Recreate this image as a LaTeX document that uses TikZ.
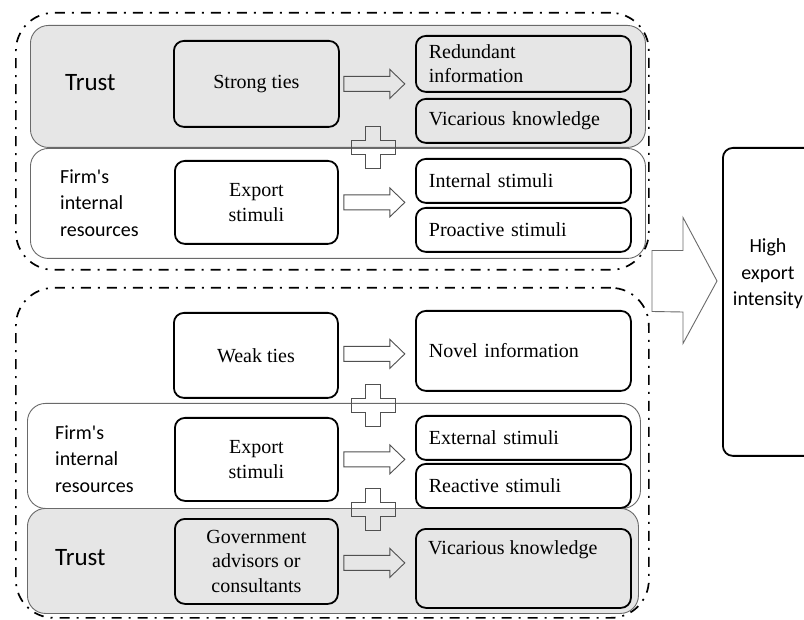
\documentclass[tikz,border=0pt]{standalone}
\usepackage{fontspec}
\setmainfont{Liberation Serif}
\newfontfamily\calfont{Carlito}
\usetikzlibrary{calc}
\definecolor{panelgray}{HTML}{E6E6E6}
\definecolor{edgegray}{HTML}{6A6A6A}
\definecolor{arrowgray}{HTML}{505050}
\newcommand\serifsz{\fontsize{20}{24.5}\selectfont}
\newcommand\sanssz{\calfont\fontsize{20}{26.5}\selectfont}
\newcommand\trustsz{\calfont\fontsize{25}{30}\selectfont}
\tikzset{
  groupbox/.style={draw=black, line width=1.7pt, dash pattern=on 10pt off 7pt on 2pt off 7pt, rounded corners=38pt, anchor=north west, inner sep=0pt},
  panel/.style={draw=edgegray, line width=0.9pt, rounded corners=18pt, anchor=north west, inner sep=0pt},
  inbox/.style={draw=black, line width=1.8pt, rounded corners=10pt, anchor=north west, inner sep=0pt, font=\serifsz, align=center},
  rbox/.style={inbox, minimum width=215pt, text width=189pt, align=left, inner xsep=13pt, inner ysep=0pt},
  arrowline/.style={draw=arrowgray, line width=0.9pt, line join=miter},
  blockarrow/.pic={\draw[arrowline] (0,-7.5) -- (46,-7.5) -- (46,-14.5) -- (61,0) -- (46,14.5) -- (46,7.5) -- (0,7.5) -- cycle;},
  plussign/.pic={\draw[arrowline] (-7.5,-21) -- (7.5,-21) -- (7.5,-7) -- (22,-7) -- (22,7) -- (7.5,7) -- (7.5,21) -- (-7.5,21) -- (-7.5,7) -- (-22,7) -- (-22,-7) -- (-7.5,-7) -- cycle;},
  lefttext/.style={anchor=west, inner sep=0pt, align=left}
}
\begin{document}
\begin{tikzpicture}[x=1pt,y=-1pt]
\useasboundingbox (0,0) rectangle (804,620);
\clip (0,0) rectangle (804,620);
\fill[white] (0,0) rectangle (804,620);

% top group
\node[panel, fill=white, minimum width=615pt, minimum height=110pt] (firm1) at (30,148) {};
\node[panel, fill=panelgray, minimum width=615pt, minimum height=122pt] (trust1) at (30,25) {};
\node[groupbox, minimum width=633pt, minimum height=257pt] (g1) at (15,12) {};

% bottom group
\node[panel, fill=white, minimum width=613pt, minimum height=105pt] (firm2) at (27,403) {};
\node[panel, fill=panelgray, minimum width=611pt, minimum height=105pt] (trust2) at (27,508) {};
\node[groupbox, minimum width=633pt, minimum height=330pt] (g2) at (15,287) {};

% left labels
\node[lefttext, font=\trustsz] (t1) at (65,83) {Trust};
\node[lefttext, font=\sanssz] (f1) at (60,203) {Firm's\\internal\\resources};
\node[lefttext, font=\sanssz] (f2) at (55,459) {Firm's\\internal\\resources};
\node[lefttext, font=\trustsz] (t2) at (55,558) {Trust};

% middle boxes
\node[inbox, fill=panelgray, minimum width=165pt, minimum height=86pt] (strong) at (173,40) {Strong ties};
\node[inbox, fill=white, minimum width=163pt, minimum height=83pt] (exp1) at (174,160) {Export\\stimuli};
\node[inbox, fill=white, minimum width=164pt, minimum height=85pt] (weak) at (173,312) {Weak ties};
\node[inbox, fill=white, minimum width=163pt, minimum height=83pt] (exp2) at (174,417) {Export\\stimuli};
\node[inbox, fill=panelgray, minimum width=163pt, minimum height=85pt] (gov) at (174,518) {Government\\advisors or\\consultants};

% right boxes
\node[rbox, fill=panelgray, minimum height=56pt] (red) at (415,35) {Redundant\\information};
\node[rbox, fill=panelgray, minimum height=44pt] (vic1) at (415,98) {Vicarious knowledge};
\node[rbox, fill=white, minimum height=44pt] (int) at (415,158) {Internal stimuli};
\node[rbox, fill=white, minimum height=44pt] (pro) at (415,207) {Proactive stimuli};
\node[rbox, fill=white, minimum height=80pt] (novel) at (415,310) {Novel information};
\node[rbox, fill=white, minimum height=44pt] (ext) at (415,415) {External stimuli};
\node[rbox, fill=white, minimum height=44pt] (rea) at (415,463) {Reactive stimuli};
\node[inbox, fill=panelgray, minimum width=215pt, minimum height=79pt] (vic2) at (415,528) {};
\node[anchor=west, inner sep=0pt, font=\serifsz] (vic2t) at ($(vic2.north west)+(13,22)$) {Vicarious knowledge};

% block arrows
\pic at ($(strong.east)+(4,0)$) {blockarrow};
\pic at ($(exp1.east)+(5,0)$) {blockarrow};
\pic at ($(weak.east)+(5,-1.5)$) {blockarrow};
\pic at ($(exp2.east)+(5,0)$) {blockarrow};
\pic at ($(gov.east)+(5,1.5)$) {blockarrow};

% plus signs
\pic at (373,147) {plussign};
\pic at (373,405) {plussign};
\pic at (373,509) {plussign};

% outcome box
\node[inbox, fill=white, minimum width=92pt, minimum height=308pt] (high) at (722,147) {};
\node[align=center, inner sep=0pt, font=\sanssz] (hight) at (768,274) {High\\export\\intensity};

% big arrow
\coordinate (ba) at (652,281);
\draw[arrowline, draw=edgegray] ($(ba)+(0,-30.5)$) -- ++(31,0) -- ++(0,-33) -- ($(ba)+(65,0)$) -- ($(ba)+(31,62.5)$) -- ++(0,-31.5) -- ($(ba)+(0,30.5)$) -- cycle;
\end{tikzpicture}
\end{document}
